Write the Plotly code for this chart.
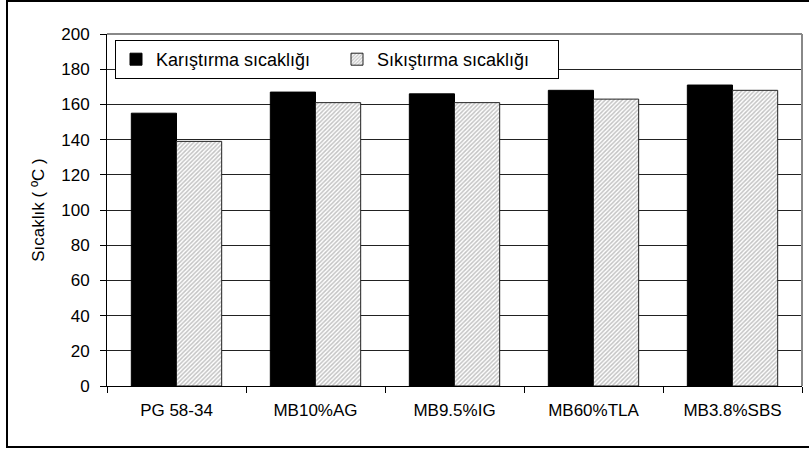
import plotly.graph_objects as go

categories = ["PG 58-34", "MB10%AG", "MB9.5%IG", "MB60%TLA", "MB3.8%SBS"]
karistirma = [155, 167, 166, 168, 171]
sikistirma = [139, 161, 161, 163, 168]
series_names = ["Karıştırma sıcaklığı", "Sıkıştırma sıcaklığı"]
y_ticks = [0, 20, 40, 60, 80, 100, 120, 140, 160, 180, 200]

FONT = "Liberation Sans, Arial, sans-serif"

fig = go.Figure()
fig.add_trace(go.Bar(
    x=categories, y=karistirma, name=series_names[0],
    marker=dict(color="black", line=dict(color="black", width=1)),
))
fig.add_trace(go.Bar(
    x=categories, y=sikistirma, name=series_names[1],
    marker=dict(color="white", line=dict(color="#222", width=1),
                pattern=dict(shape="/", fgcolor="#888", bgcolor="white",
                             size=3, solidity=0.5)),
))

L, R, T, B = 107, 7, 34, 63
W, H = 809, 449
pw, ph = W - L - R, H - T - B

def px2x(px):
    return (px - L) / pw

def py2y(py):
    return (H - B - py) / ph

fig.update_layout(
    width=W, height=H,
    margin=dict(l=L, r=R, t=T, b=B, autoexpand=False),
    paper_bgcolor="white", plot_bgcolor="white",
    font=dict(family=FONT, size=17, color="black"),
    barmode="group", bargap=0.35, bargroupgap=0,
    showlegend=True,
    legend=dict(
        orientation="h", x=px2x(115), y=py2y(40), xanchor="left", yanchor="top",
        bgcolor="white", bordercolor="black", borderwidth=1,
        font=dict(family=FONT, size=18), entrywidth=176, entrywidthmode="pixels",
        itemwidth=30, tracegroupgap=0,
    ),
    xaxis=dict(
        automargin=False,
        showline=True, linecolor="black", linewidth=1,
        ticks="outside", ticklen=6, tickcolor="black", tickson="boundaries",
        showgrid=False, ticklabelstandoff=9,
        tickfont=dict(family=FONT, size=17),
    ),
    yaxis=dict(
        automargin=False,
        range=[0, 200], tickvals=y_ticks,
        showline=True, linecolor="black", linewidth=1,
        ticks="outside", ticklen=6, tickcolor="black",
        showgrid=True, gridcolor="#222", gridwidth=1, zeroline=False,
        ticklabelstandoff=7,
        tickfont=dict(family=FONT, size=17),
        title=dict(text="Sıcaklık ( ºC )", font=dict(family=FONT, size=17), standoff=12),
    ),
    shapes=[
        dict(type="line", xref="paper", yref="paper", x0=0, x1=1, y0=1, y1=1,
             line=dict(color="#888", width=2)),
        dict(type="line", xref="paper", yref="paper", x0=1, x1=1, y0=0, y1=1,
             line=dict(color="#888", width=2)),
        dict(type="rect", xref="paper", yref="paper",
             x0=px2x(7), x1=px2x(815), y0=py2y(447), y1=py2y(1),
             line=dict(color="black", width=2), fillcolor="rgba(0,0,0,0)", layer="above"),
    ],
)

fig.write_html("out.html", config={"displayModeBar": False},
               post_script="document.body.style.margin='0px';")
